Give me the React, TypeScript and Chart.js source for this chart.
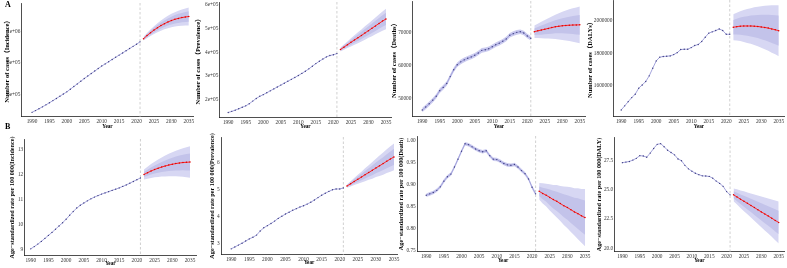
import React, { useEffect, useRef } from 'react';
import { Chart, registerables } from 'chart.js';
Chart.register(...registerables);

const histYears = [1990,1991,1992,1993,1994,1995,1996,1997,1998,1999,2000,2001,2002,2003,2004,2005,2006,2007,2008,2009,2010,2011,2012,2013,2014,2015,2016,2017,2018,2019,2020,2021];
const fcYears = [2022,2023,2024,2025,2026,2027,2028,2029,2030,2031,2032,2033,2034,2035];
const xTickYears = [1990,1995,2000,2005,2010,2015,2020,2025,2030,2035];

// A1 Incidence cases
const incCases = [484000,495000,507000,519000,532000,545000,559000,573000,587000,601000,615000,632000,649000,666000,683000,700000,716000,732000,748000,764000,780000,794000,808000,822000,836000,850000,864000,878000,892000,906000,920000,935000];
const incCasesFc = [955000,975000,993000,1010000,1025000,1039000,1051000,1062000,1071000,1079000,1085000,1090000,1094000,1097000];
const incCasesOuter = [12000,17000,21000,25000,29000,33000,36000,40000,43000,46000,49000,52000,55000,57000];
const incCasesInner = [7000,10000,13000,15000,17000,19000,21000,23000,25000,27000,29000,30000,32000,34000];
const incCasesTicks = [600000,800000,1000000];
const incCasesLabels = ['6e+05','8e+05','1e+06'];

// A2 Prevalence cases
const prevCases = [147000,152000,157000,163000,169000,175000,184000,195000,206000,215000,222000,230000,238000,246000,254000,262000,270000,278000,286000,294000,302000,311000,320000,330000,341000,352000,362000,371000,380000,386000,389000,394000];
const prevCasesFc = [411000,421000,431000,441000,451000,460000,470000,480000,490000,500000,510000,520000,530000,539000];
const prevCasesOuter = [8000,11000,14000,17000,20000,23000,25000,28000,30000,33000,35000,38000,40000,43000];
const prevCasesInner = [5000,7000,8500,10000,12000,13500,15000,16500,18000,19500,21000,22500,24000,25500];
const prevCasesTicks = [200000,300000,400000,500000,600000];
const prevCasesLabels = ['2e+05','3e+05','4e+05','5e+05','6e+05'];

// A3 Deaths
const deathCases = [46400,47300,48300,49400,50600,52300,53300,54500,56600,58700,60200,61100,61700,62200,62600,63100,63800,64600,64800,65100,65700,66300,66800,67400,68100,69200,69700,70100,70300,69900,69000,68300];
const deathCasesBand = [700,700,700,700,700,700,700,700,700,700,700,700,700,700,700,700,700,700,700,700,700,700,700,700,700,700,700,700,700,700,700,700];
const deathCasesFc = [70300,70550,70800,71050,71300,71550,71800,71950,72100,72200,72280,72330,72360,72380];
const deathCasesOuter = [1900,2200,2500,2800,3100,3400,3700,4000,4300,4600,4850,5100,5350,5600];
const deathCasesInner = [1000,1200,1400,1550,1700,1850,2000,2150,2300,2450,2600,2750,2900,3000];
const deathCasesTicks = [50000,60000,70000];
const deathCasesLabels = ['50000','60000','70000'];

// A4 DALYs
const dalyCases = [1452000,1477000,1503000,1528000,1549000,1586000,1606000,1627000,1662000,1709000,1754000,1777000,1781000,1783000,1785000,1793000,1805000,1824000,1826000,1826000,1836000,1849000,1855000,1874000,1900000,1925000,1933000,1941000,1951000,1941000,1918000,1918000];
const dalyCasesFc = [1961000,1965000,1968000,1969000,1969000,1969000,1968000,1966000,1963000,1960000,1956000,1951000,1946000,1940000];
const dalyCasesOuter = [80000,86000,92000,98000,104000,110000,116000,122000,128000,134000,140000,146000,151000,157000];
const dalyCasesInner = [45000,49000,53000,57000,60000,64000,68000,71000,75000,79000,82000,86000,89000,93000];
const dalyCasesTicks = [1600000,1800000,2000000];
const dalyCasesLabels = ['1600000','1800000','2000000'];

// B1 ASR Incidence
const incRate = [9.03,9.12,9.22,9.33,9.45,9.57,9.69,9.82,9.95,10.08,10.22,10.38,10.53,10.67,10.78,10.87,10.96,11.04,11.11,11.17,11.23,11.28,11.33,11.38,11.43,11.48,11.54,11.6,11.67,11.74,11.81,11.88];
const incRateFc = [12.02,12.09,12.16,12.22,12.27,12.32,12.36,12.4,12.43,12.46,12.48,12.5,12.51,12.52];
const incRateOuter = [0.2,0.24,0.28,0.31,0.35,0.38,0.42,0.45,0.48,0.51,0.54,0.57,0.6,0.63];
const incRateInner = [0.1,0.12,0.14,0.16,0.18,0.2,0.22,0.24,0.26,0.28,0.3,0.31,0.33,0.34];
const incRateTicks = [9,10,11,12,13];
const incRateLabels = ['9','10','11','12','13'];

// B2 ASR Prevalence
const prevRate = [2.79,2.86,2.93,3.0,3.08,3.16,3.22,3.3,3.45,3.57,3.65,3.73,3.82,3.92,4.0,4.08,4.15,4.22,4.28,4.34,4.39,4.45,4.52,4.6,4.69,4.78,4.85,4.92,4.98,5.01,5.01,5.05];
const prevRateFc = [5.12,5.2,5.29,5.37,5.45,5.54,5.62,5.7,5.79,5.87,5.95,6.04,6.12,6.2];
const prevRateOuter = [0.06,0.1,0.13,0.17,0.2,0.24,0.27,0.31,0.34,0.38,0.41,0.44,0.47,0.5];
const prevRateInner = [0.035,0.06,0.08,0.1,0.12,0.14,0.16,0.18,0.2,0.22,0.24,0.26,0.28,0.3];
const prevRateTicks = [3,4,5,6];
const prevRateLabels = ['3','4','5','6'];

// B3 ASR Death
const deathRate = [0.876,0.879,0.882,0.887,0.895,0.908,0.918,0.924,0.94,0.958,0.976,0.993,0.991,0.986,0.981,0.977,0.975,0.977,0.966,0.958,0.957,0.953,0.948,0.945,0.944,0.946,0.94,0.932,0.925,0.913,0.894,0.879];
const deathRateBand = [0.004,0.004,0.004,0.004,0.004,0.004,0.004,0.004,0.004,0.004,0.004,0.004,0.004,0.004,0.004,0.004,0.004,0.004,0.004,0.004,0.004,0.004,0.004,0.004,0.004,0.004,0.004,0.004,0.004,0.004,0.004,0.004];
const deathRateFc = [0.885,0.88,0.876,0.871,0.866,0.862,0.857,0.852,0.848,0.843,0.838,0.834,0.829,0.825];
const deathRateOuter = [0.019,0.023,0.026,0.03,0.033,0.037,0.04,0.044,0.047,0.051,0.054,0.058,0.061,0.065];
const deathRateInner = [0.011,0.013,0.015,0.018,0.02,0.022,0.024,0.026,0.028,0.03,0.032,0.035,0.037,0.039];
const deathRateTicks = [0.75,0.8,0.85,0.9,0.95,1.0];
const deathRateLabels = ['0.75','0.80','0.85','0.90','0.95','1.00'];

// B4 ASR DALY
const dalyRate = [27.33,27.38,27.43,27.55,27.7,27.93,27.9,27.8,28.15,28.55,28.9,28.96,28.7,28.4,28.2,28.0,27.65,27.5,27.1,26.8,26.6,26.42,26.3,26.2,26.18,26.15,26.0,25.75,25.55,25.3,24.85,24.57];
const dalyRateFc = [24.57,24.39,24.2,24.02,23.84,23.66,23.48,23.29,23.11,22.93,22.75,22.57,22.38,22.2];
const dalyRateOuter = [0.55,0.65,0.75,0.85,0.94,1.03,1.13,1.22,1.32,1.41,1.5,1.6,1.7,1.8];
const dalyRateInner = [0.3,0.36,0.41,0.47,0.52,0.57,0.63,0.68,0.73,0.79,0.84,0.89,0.95,1.0];
const dalyRateTicks = [20,22.5,25,27.5];
const dalyRateLabels = ['20.0','22.5','25.0','27.5'];

const FONT = "'Liberation Serif', 'Times New Roman', 'Noto Sans CJK SC', serif";

type PanelCfg = {
  title: string; hist: number[]; histBand?: number[]; fc: number[]; outer: number[]; inner: number[];
  yTicks: number[]; yLabels: string[];
  axisX: number; plotTop: number; axisY: number; plotRight: number; titleX: number; yearY: number;
  xMin: number; xMax: number; yMin: number; yMax: number; titleSize: number;
};

const panels: PanelCfg[] = [
  { title: 'Number of cases（Incidence）', hist: incCases, fc: incCasesFc, outer: incCasesOuter, inner: incCasesInner, yTicks: incCasesTicks, yLabels: incCasesLabels,
    axisX: 22, plotTop: 3, axisY: 117, plotRight: 193, titleX: 7, yearY: 127, xMin: 1987.1, xMax: 2036.2, yMin: 454950, yMax: 1183400, titleSize: 6.5 },
  { title: 'Number of cases（Prevalence）', hist: prevCases, fc: prevCasesFc, outer: prevCasesOuter, inner: prevCasesInner, yTicks: prevCasesTicks, yLabels: prevCasesLabels,
    axisX: 220, plotTop: 2, axisY: 118, plotRight: 391, titleX: 198, yearY: 127, xMin: 1987.63, xMax: 2036.43, yMin: 124700, yMax: 610000, titleSize: 6.5 },
  { title: 'Number of cases（Deaths）', hist: deathCases, histBand: deathCasesBand, fc: deathCasesFc, outer: deathCasesOuter, inner: deathCasesInner, yTicks: deathCasesTicks, yLabels: deathCasesLabels,
    axisX: 413, plotTop: 1, axisY: 117, plotRight: 585, titleX: 394, yearY: 127, xMin: 1987.34, xMax: 2036.48, yMin: 44300, yMax: 79665, titleSize: 6.5 },
  { title: 'Number of cases（DALYs）', hist: dalyCases, fc: dalyCasesFc, outer: dalyCasesOuter, inner: dalyCasesInner, yTicks: dalyCasesTicks, yLabels: dalyCasesLabels,
    axisX: 614, plotTop: 0, axisY: 117, plotRight: 784, titleX: 590, yearY: 127, xMin: 1987.91, xMax: 2036.5, yMin: 1409200, yMax: 2129200, titleSize: 6.5 },
  { title: 'Age−standardized rate per 100 000(Incidence)', hist: incRate, fc: incRateFc, outer: incRateOuter, inner: incRateInner, yTicks: incRateTicks, yLabels: incRateLabels,
    axisX: 25, plotTop: 139, axisY: 256, plotRight: 196, titleX: 13, yearY: 264, xMin: 1988.3, xMax: 2036.7, yMin: 8.747, yMax: 13.446, titleSize: 6.2 },
  { title: 'Age−standardized rate per 100 000(Prevalence)', hist: prevRate, fc: prevRateFc, outer: prevRateOuter, inner: prevRateInner, yTicks: prevRateTicks, yLabels: prevRateLabels,
    axisX: 221, plotTop: 137, axisY: 255, plotRight: 397, titleX: 212.5, yearY: 263, xMin: 1987.24, xMax: 2035.83, yMin: 2.567, yMax: 6.937, titleSize: 6.2 },
  { title: 'Age−standardized rate per 100 000(Death)', hist: deathRate, histBand: deathRateBand, fc: deathRateFc, outer: deathRateOuter, inner: deathRateInner, yTicks: deathRateTicks, yLabels: deathRateLabels,
    axisX: 417, plotTop: 136, axisY: 252, plotRight: 589, titleX: 401.5, yearY: 261, xMin: 1987.45, xMax: 2036.13, yMin: 0.747, yMax: 1.0107, titleSize: 6.2 },
  { title: 'Age−standardized rate per 100 000(DALY)', hist: dalyRate, fc: dalyRateFc, outer: dalyRateOuter, inner: dalyRateInner, yTicks: dalyRateTicks, yLabels: dalyRateLabels,
    axisX: 615, plotTop: 137, axisY: 252, plotRight: 784, titleX: 600, yearY: 261, xMin: 1987.78, xMax: 2036.53, yMin: 19.68, yMax: 29.53, titleSize: 6.2 },
];

const pts = (xs: number[], ys: number[]) => xs.map((x, i) => ({ x, y: ys[i] }));

const vline = {
  id: 'vline',
  beforeDatasetsDraw(chart: any) {
    const { ctx, chartArea } = chart;
    const x = chart.scales.x.getPixelForValue(2021);
    ctx.save();
    ctx.strokeStyle = '#c4c4c4';
    ctx.lineWidth = 0.8;
    ctx.setLineDash([2.5, 2]);
    ctx.beginPath();
    ctx.moveTo(x, chartArea.top);
    ctx.lineTo(x, chartArea.bottom);
    ctx.stroke();
    ctx.restore();
  },
};

function Panel({ cfg }: { cfg: PanelCfg }) {
  const ref = useRef<HTMLCanvasElement>(null);
  const P = 10;
  const titleLH = cfg.titleSize * 1.2;
  const yearSize = 5.2;
  const yearLH = yearSize * 1.2;
  const yAxisW = cfg.axisX - cfg.titleX + titleLH / 2 + 1;
  const xAxisH = cfg.yearY - cfg.axisY + yearLH / 2 + 1;
  const left = cfg.axisX - yAxisW - P;
  const top = cfg.plotTop - P;
  const width = Math.round(cfg.plotRight - cfg.axisX + yAxisW + 2 * P);
  const height = Math.round(cfg.axisY - cfg.plotTop + xAxisH + 2 * P);

  useEffect(() => {
    const band = 'transparent';
    // Chart.js draws dataset 0 on top, so lines come first and wide bands last
    const datasets: any[] = [
      { data: pts(fcYears, cfg.fc), borderColor: '#ff2424', borderWidth: 1, pointRadius: 0.75, pointBackgroundColor: '#e00000', pointBorderWidth: 0, fill: false },
      { data: pts(histYears, cfg.hist), borderColor: '#a4a4dc', borderWidth: 1, pointRadius: 0.7, pointBackgroundColor: '#3d3d82', pointBorderWidth: 0, fill: false },
    ];
    if (cfg.histBand) {
      const hb = cfg.histBand;
      datasets.push(
        { data: pts(histYears, cfg.hist.map((v, i) => v + hb[i])), fill: '+1', backgroundColor: '#cbcbef', borderColor: band, borderWidth: 0, pointRadius: 0 },
        { data: pts(histYears, cfg.hist.map((v, i) => v - hb[i])), fill: false, borderColor: band, borderWidth: 0, pointRadius: 0 },
      );
    }
    datasets.push(
      { data: pts(fcYears, cfg.fc.map((v, i) => v + cfg.inner[i])), fill: '+1', backgroundColor: '#c3c3ea', borderColor: band, borderWidth: 0, pointRadius: 0 },
      { data: pts(fcYears, cfg.fc.map((v, i) => v - cfg.inner[i])), fill: false, borderColor: band, borderWidth: 0, pointRadius: 0 },
      { data: pts(fcYears, cfg.fc.map((v, i) => v + cfg.outer[i])), fill: '+1', backgroundColor: '#d7d7f3', borderColor: band, borderWidth: 0, pointRadius: 0 },
      { data: pts(fcYears, cfg.fc.map((v, i) => v - cfg.outer[i])), fill: false, borderColor: band, borderWidth: 0, pointRadius: 0 },
    );
    const chart = new Chart(ref.current as HTMLCanvasElement, {
      type: 'line',
      data: { datasets },
      plugins: [vline],
      options: {
        responsive: false,
        animation: false,
        devicePixelRatio: 1,
        layout: { padding: P },
        elements: { line: { tension: 0 } },
        plugins: { legend: { display: false }, tooltip: { enabled: false } },
        scales: {
          x: {
            type: 'linear', min: cfg.xMin, max: cfg.xMax,
            grid: { display: false, drawTicks: false },
            border: { display: true, color: '#222', width: 0.8 },
            ticks: { font: { family: FONT, size: 5.3 }, color: '#333', padding: 1.5, autoSkip: false, maxRotation: 0, callback: (v: any) => String(v) },
            afterBuildTicks: (s: any) => { s.ticks = xTickYears.map((v) => ({ value: v })); },
            afterFit: (s: any) => { s.height = xAxisH; },
            title: { display: true, text: 'Year', color: '#000', font: { family: FONT, size: yearSize, weight: 'bold' }, padding: { top: 0, bottom: 1 } },
          },
          y: {
            type: 'linear', min: cfg.yMin, max: cfg.yMax,
            grid: { display: false, drawTicks: false },
            border: { display: true, color: '#222', width: 0.8 },
            ticks: { font: { family: FONT, size: 5.3 }, color: '#333', padding: 1.5, autoSkip: false, callback: (_v: any, i: number) => cfg.yLabels[i] },
            afterBuildTicks: (s: any) => { s.ticks = cfg.yTicks.map((v) => ({ value: v })); },
            afterFit: (s: any) => { s.width = yAxisW; },
            title: { display: true, text: cfg.title, color: '#000', font: { family: FONT, size: cfg.titleSize, weight: 'bold' }, padding: { top: 1, bottom: 0 } },
          },
        },
      } as any,
    });
    return () => chart.destroy();
  }, []);

  return (
    <canvas ref={ref} width={width} height={height}
      style={{ position: 'absolute', left, top, width, height }} />
  );
}

export default function App() {
  return (
    <div style={{ position: 'absolute', left: 0, top: 0, width: 787, height: 268, overflow: 'hidden', background: '#fff' }}>
      {panels.map((p, i) => <Panel key={i} cfg={p} />)}
      <div style={{ position: 'absolute', left: 5, top: 0, font: `bold 8px ${FONT}`, color: '#000' }}>A</div>
      <div style={{ position: 'absolute', left: 5, top: 122, font: `bold 8px ${FONT}`, color: '#000' }}>B</div>
    </div>
  );
}
